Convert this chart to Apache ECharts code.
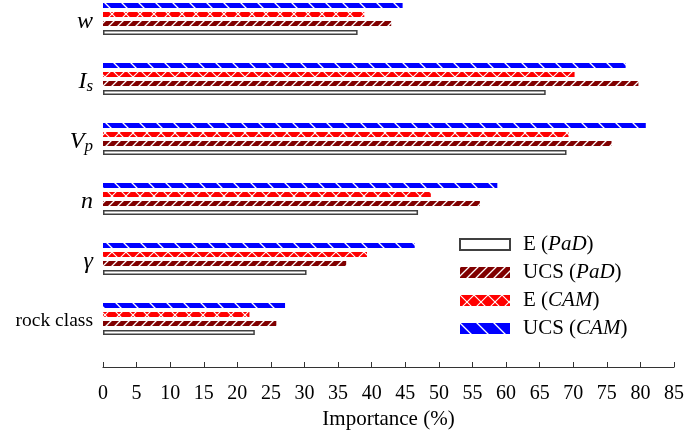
<!DOCTYPE html>
<html>
<head>
<meta charset="utf-8">
<script src="https://cdn.jsdelivr.net/npm/echarts@6/dist/echarts.min.js"></script>
<style>
  html, body { margin: 0; padding: 0; background: #fff; }
  #chart { width: 685px; height: 430px; }
</style>
</head>
<body>
<div id="chart"></div>
<script>
// categories, bottom to top (category axis runs upward)
const categories = ['rock class', 'gamma', 'n', 'Vp', 'Is', 'w'];
const xTicks = [0, 85, 5]; // min, max, interval

const ePaD = [22.6, 30.3, 46.9, 69.0, 65.9, 37.9];
const ucsPaD = [25.8, 36.2, 56.1, 75.7, 79.7, 42.9];
const eCAM = [21.8, 39.3, 48.8, 69.3, 70.2, 38.9];
const ucsCAM = [27.1, 46.4, 58.7, 80.8, 77.8, 44.6];

const seriesNames = ['E (PaD)', 'UCS (PaD)', 'E (CAM)', 'UCS (CAM)'];

const SERIF = '"Liberation Serif", "Times New Roman", serif';

// hatch pattern tiles
function makePattern(bg, size, lw, draw) {
  const c = document.createElement('canvas');
  c.width = size;
  c.height = size;
  const ctx = c.getContext('2d');
  ctx.fillStyle = bg;
  ctx.fillRect(0, 0, size, size);
  ctx.strokeStyle = '#fff';
  ctx.lineWidth = lw;
  draw(ctx, size);
  return { image: c, repeat: 'repeat' };
}

function slash(ctx, s) {
  ctx.beginPath();
  ctx.moveTo(-1, s + 1); ctx.lineTo(s + 1, -1);
  ctx.moveTo(-1, 1); ctx.lineTo(1, -1);
  ctx.moveTo(s - 1, s + 1); ctx.lineTo(s + 1, s - 1);
  ctx.stroke();
}

function backslash(ctx, s) {
  ctx.beginPath();
  ctx.moveTo(-1, -1); ctx.lineTo(s + 1, s + 1);
  ctx.moveTo(s - 1, -1); ctx.lineTo(s + 1, 1);
  ctx.moveTo(-1, s - 1); ctx.lineTo(1, s + 1);
  ctx.stroke();
}

const darkRedFill = makePattern('#800000', 9, 1.3, slash);
const redFill = makePattern('#ff0000', 14, 1.1, (ctx, s) => { slash(ctx, s); backslash(ctx, s); });
const blueFill = makePattern('#0000ff', 17, 1.3, backslash);

const labelMap = {
  'rock class': '{r|rock class}',
  'gamma': '{m|γ}',
  'n': '{m|n}',
  'Vp': '{m|V}{sub|p}',
  'Is': '{m|I}{sub|s}',
  'w': '{m|w}',
};

const chart = echarts.init(document.getElementById('chart'));

function barSeries(name, data, itemStyle) {
  return {
    name: name,
    type: 'bar',
    data: data,
    barWidth: 5,
    barGap: '80%',
    itemStyle: itemStyle,
    emphasis: { disabled: true },
  };
}

const option = {
  animation: false,
  backgroundColor: '#fff',
  textStyle: { fontFamily: SERIF, color: '#000' },
  grid: {
    left: 103,
    right: 11,
    top: -11,
    height: 360,
    outerBoundsMode: 'none',
  },
  legend: {
    orient: 'vertical',
    left: 459,
    top: 234,
    padding: 0,
    icon: 'rect',
    itemWidth: 50,
    itemHeight: 11,
    itemGap: 7,
    data: seriesNames,
    formatter: (name) => name.replace(/\((\w+)\)/, '({i|$1})'),
    textStyle: {
      fontFamily: SERIF,
      fontSize: 21,
      color: '#000',
      padding: [0, 0, 0, 8],
      lineHeight: 21,
      rich: {
        i: { fontFamily: SERIF, fontSize: 21, fontStyle: 'italic', color: '#000' },
      },
    },
  },
  xAxis: {
    type: 'value',
    min: xTicks[0],
    max: xTicks[1],
    interval: xTicks[2],
    offset: 18,
    name: 'Importance (%)',
    nameLocation: 'middle',
    nameGap: 37,
    nameTextStyle: { fontFamily: SERIF, fontSize: 21, color: '#000' },
    axisLine: { show: true, lineStyle: { color: '#333', width: 1.2 } },
    axisTick: { show: true, inside: true, length: 5, lineStyle: { color: '#333' } },
    axisLabel: { fontFamily: SERIF, fontSize: 20, color: '#000', margin: 17 },
    splitLine: { show: false },
  },
  yAxis: {
    type: 'category',
    data: categories,
    axisLine: { show: false },
    axisTick: { show: false },
    axisLabel: {
      margin: 10,
      formatter: (v) => labelMap[v],
      rich: {
        r: { fontFamily: SERIF, fontSize: 19.5, color: '#000', padding: [3, 0, 0, 0] },
        m: { fontFamily: SERIF, fontSize: 24, fontStyle: 'italic', color: '#000', padding: [5, 0, 0, 0] },
        sub: { fontFamily: SERIF, fontSize: 17, fontStyle: 'italic', color: '#000', padding: [15, 0, 0, 0] },
      },
    },
  },
  // first series is drawn at the top of each group
  series: [
    barSeries(seriesNames[3], ucsCAM, { color: blueFill }),
    barSeries(seriesNames[2], eCAM, { color: redFill }),
    barSeries(seriesNames[1], ucsPaD, { color: darkRedFill }),
    barSeries(seriesNames[0], ePaD, { color: '#fff', borderColor: '#404040', borderWidth: 1.5 }),
  ],
};

chart.setOption(option);
</script>
</body>
</html>
